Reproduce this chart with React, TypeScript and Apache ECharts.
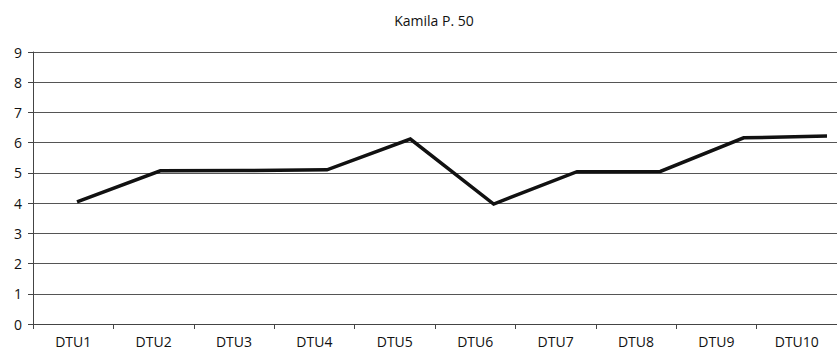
import React, { useEffect, useRef } from "react";
import * as echarts from "echarts";

const title = "Kamila P. 50";
const categories = ["DTU1", "DTU2", "DTU3", "DTU4", "DTU5", "DTU6", "DTU7", "DTU8", "DTU9", "DTU10"];
const values = [4.04, 5.07, 5.08, 5.1, 6.12, 3.97, 5.04, 5.05, 6.16, 6.22];
const yMin = 0;
const yMax = 9;
const yInterval = 1;

export default function App() {
  const ref = useRef<HTMLDivElement>(null);
  useEffect(() => {
    if (!ref.current) return;
    const chart = echarts.init(ref.current, null, { renderer: "svg" });
    const font = "'Open Sans', 'Noto Sans', sans-serif";
    chart.setOption({
      animation: false,
      backgroundColor: "#ffffff",
      title: {
        text: title,
        left: 429,
        top: 8,
        textAlign: "center",
        textStyle: { fontFamily: font, fontSize: 14, fontWeight: "normal", color: "#111" },
      },
      grid: [
        { left: 33, right: 0, top: 52, bottom: 27, containLabel: false },
        { left: 77, right: 10, top: 52, bottom: 27, containLabel: false },
      ],
      xAxis: [
        {
          type: "category",
          gridIndex: 0,
          data: categories,
          boundaryGap: true,
          axisLine: { lineStyle: { color: "#444", width: 1 } },
          axisTick: { show: true, length: 5, lineStyle: { color: "#444" } },
          axisLabel: { fontFamily: font, fontSize: 14, color: "#111", margin: 10 },
          splitLine: { show: false },
        },
        {
          type: "category",
          gridIndex: 1,
          data: categories,
          boundaryGap: false,
          show: false,
        },
      ],
      yAxis: [
        {
          type: "value",
          gridIndex: 0,
          min: yMin,
          max: yMax,
          interval: yInterval,
          axisLine: { show: true, lineStyle: { color: "#444", width: 1 } },
          axisTick: { show: true, length: 5, lineStyle: { color: "#444" } },
          axisLabel: { fontFamily: font, fontSize: 14, color: "#111", margin: 11 },
          splitLine: { show: true, lineStyle: { color: "#555", width: 1 } },
        },
        {
          type: "value",
          gridIndex: 1,
          min: yMin,
          max: yMax,
          interval: yInterval,
          show: false,
          splitLine: { show: false },
        },
      ],
      series: [
        {
          type: "line",
          xAxisIndex: 1,
          yAxisIndex: 1,
          data: values,
          showSymbol: false,
          symbol: "none",
          lineStyle: { color: "#111", width: 3.5, join: "miter" },
        },
      ],
    });
    return () => chart.dispose();
  }, []);
  return (
    <div
      ref={ref}
      style={{ position: "fixed", left: 0, top: 0, width: 837, height: 351, background: "#fff" }}
    />
  );
}
